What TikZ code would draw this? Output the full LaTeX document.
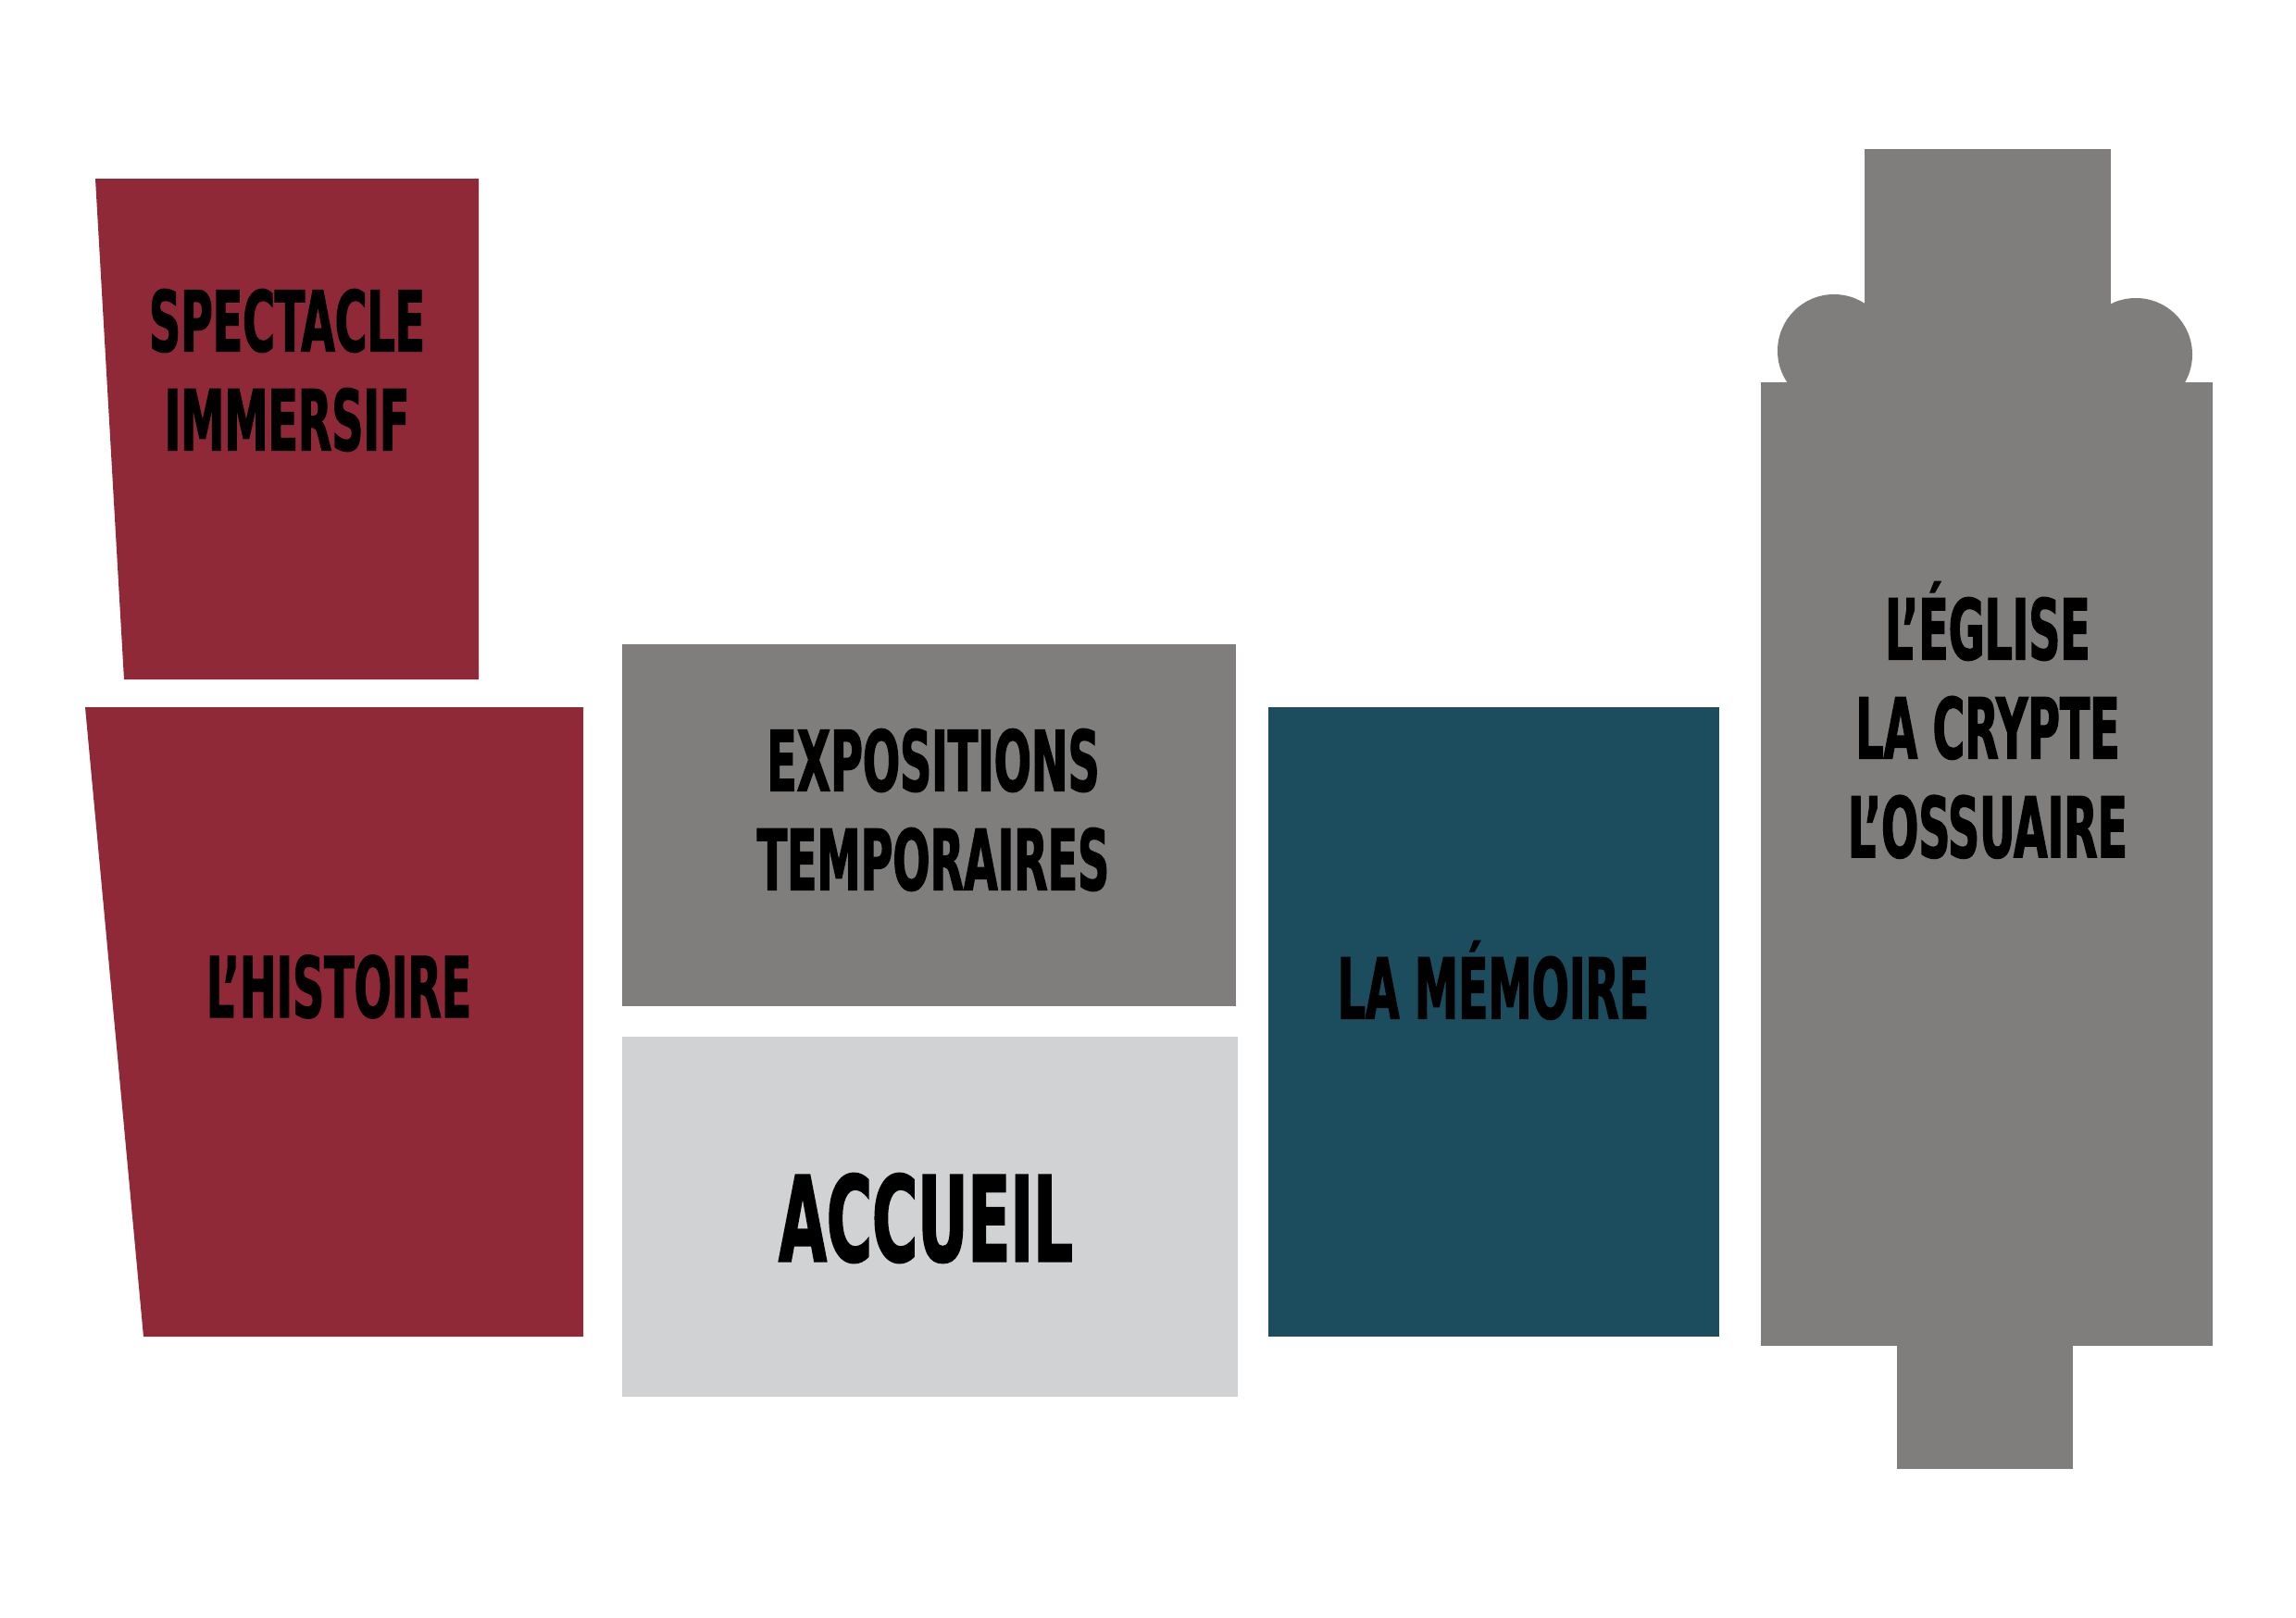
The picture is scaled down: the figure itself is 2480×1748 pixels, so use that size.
\documentclass[tikz,border=0pt]{standalone}
\usepackage{fontspec}
\newfontfamily\signfont{DejaVu Sans Condensed}[FakeStretch=0.58,FakeBold=1.4]
\definecolor{salle}{RGB}{143,41,56}
\definecolor{pierre}{RGB}{127,126,124}
\definecolor{clair}{RGB}{209,210,212}
\definecolor{canard}{RGB}{27,77,94}
\begin{document}
\begin{tikzpicture}[x=0.01cm, y=-0.01cm,
  titre/.style={font=\signfont\bfseries\fontsize{25.8}{30.4}\selectfont, align=center, inner sep=0pt}]
  \useasboundingbox[fill=white] (0,0) rectangle (2480,1748);

  % salles rouges
  \fill[salle] (103,193) -- (517,193) -- (517,734) -- (134,734) -- cycle;
  \node[titre] (spectacle) at (310,400) {SPECTACLE\\IMMERSIF};

  \fill[salle] (92,764) -- (630,764) -- (630,1444) -- (155,1444) -- cycle;
  \node[titre] (histoire) at (366,1066) {L’HISTOIRE};

  % expositions et accueil
  \fill[pierre] (672,696) rectangle (1335,1087);
  \node[titre] (expos) at (1008,875) {EXPOSITIONS\\TEMPORAIRES};

  \fill[clair] (672,1120) rectangle (1337,1509);
  \node[titre, font=\signfont\bfseries\fontsize{36.5}{40}\selectfont] (accueil) at (1000,1316) {ACCUEIL};

  % memoire
  \fill[canard] (1370,764) rectangle (1857,1444);
  \node[titre] (memoire) at (1613,1059) {LA MÉMOIRE};

  % eglise
  \fill[pierre] (1981,379) circle (61);
  \fill[pierre] (2307,383) circle (61);
  \fill[pierre] (2014,161) rectangle (2280,413);
  \fill[pierre] (1902,413) rectangle (2390,1454);
  \fill[pierre] (2049,1454) rectangle (2239,1587);
  \node[titre] (eglise) at (2147,778) {L’ÉGLISE\\LA CRYPTE\\L’OSSUAIRE};
\end{tikzpicture}
\end{document}
